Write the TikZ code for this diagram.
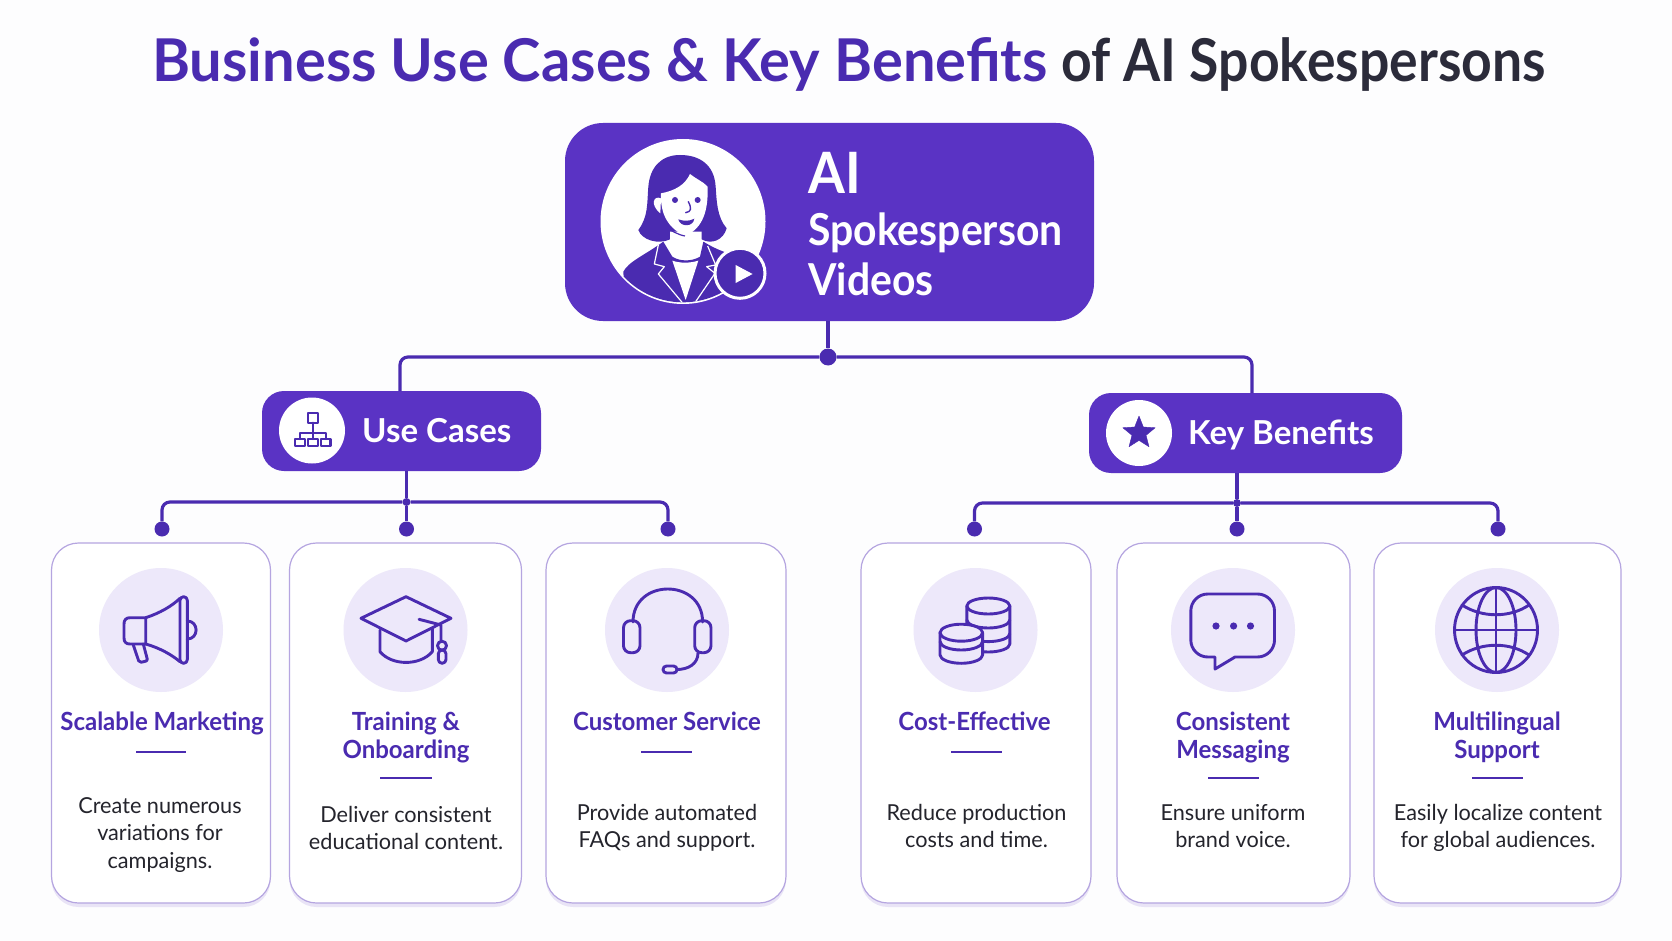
\documentclass[tikz,border=0pt]{standalone}
\usepackage{fontspec}
\setmainfont{Lato}[FakeStretch=0.985]
\newfontfamily\pagetitlefont[FakeStretch=0.98]{Lato}
\newfontfamily\pagetaildfont[FakeStretch=0.907]{Lato}
\newfontfamily\mainboxfont[FakeStretch=0.93]{Lato}
\newfontfamily\headboxfont[FakeStretch=1.0]{Lato}
\newfontfamily\cardtitlefont[FakeStretch=0.96]{Lato}
\usetikzlibrary{shapes.geometric, shadows}
\definecolor{pagebg}{HTML}{FDFDFE}
\definecolor{boxpurple}{HTML}{5A33C4}
\definecolor{inkpurple}{HTML}{4A2BB0}
\definecolor{titledark}{HTML}{2B2B3A}
\definecolor{bodydark}{HTML}{24242C}
\definecolor{iconbg}{HTML}{EDE8FA}
\definecolor{cardline}{HTML}{B5A5E0}
\tikzset{
    mainbox/.style={fill=boxpurple,rounded corners=38,minimum width=529,minimum height=198,inner sep=0},
    headbox/.style={fill=boxpurple,rounded corners=22,minimum height=80,inner sep=0},
    headcircle/.style={circle,fill=white,minimum size=66,inner sep=0},
    headtext/.style={anchor=base west,text=white,inner sep=0,font=\headboxfont\fontsize{33}{38}\selectfont\bfseries},
    card/.style={draw=cardline,fill=white,line width=1.2,rounded corners=27,minimum height=360,inner sep=0,
        drop shadow={shadow xshift=0pt,shadow yshift=-4pt,opacity=.12,fill=boxpurple}},
    iconcircle/.style={circle,fill=iconbg,minimum size=124,inner sep=0},
    cardtitle/.style={anchor=base,align=center,text=inkpurple,inner sep=0,font=\cardtitlefont\fontsize{25}{28}\selectfont\bfseries},
    cardtext/.style={anchor=base,align=center,text=bodydark,inner sep=0,font=\fontsize{22}{27.5}\selectfont},
    wire/.style={draw=inkpurple,line width=3.2,rounded corners=8},
    wiredot/.style={circle,fill=inkpurple,inner sep=0,minimum size=15},
    hubdot/.style={circle,fill=inkpurple,inner sep=0,minimum size=8},
    cardrule/.style={draw=inkpurple,line width=2.2},
    icon/.style={draw=inkpurple,line width=2.9,line join=round,line cap=round}
}
\begin{document}
\begin{tikzpicture}[x=1pt,y=-1pt]
    \useasboundingbox[fill=pagebg] (0,0) rectangle (1672,941);

    \node[anchor=base,inner sep=0,font=\fontsize{59}{64}\selectfont\bfseries] at (849,81.7) (page-title) {\textcolor{inkpurple}{\pagetitlefont Business Use Cases \& Key Benefits} \textcolor{titledark}{\pagetaildfont of AI Spokespersons}};

    \node[mainbox] at (829.5,222) (main-box) {};
    \node[circle,fill=white,minimum size=165,inner sep=0] at (683,221.5) (avatar) {};
    \begin{scope}[shift={(595,130)},x=0.3333pt,y=-0.3333pt]
        \clip (264,274) circle (81pt);
        \fill[inkpurple] (255,75) .. controls (200,75) and (165,110) .. (160,170) .. controls (156,220) and (160,260) .. (130,300) .. controls (140,330) and (190,345) .. (225,328) -- (320,328) .. controls (350,345) and (385,330) .. (395,295) .. controls (365,260) and (365,210) .. (362,170) .. controls (358,105) and (315,75) .. (255,75) -- cycle;
        \fill[white] (285,132) .. controls (270,165) and (240,182) .. (198,190) .. controls (196,240) and (210,290) .. (270,318) .. controls (325,295) and (340,240) .. (338,170) .. controls (325,155) and (300,145) .. (285,132) -- cycle;
        \fill[white] (198,205) .. controls (175,195) and (165,225) .. (196,250) -- cycle;
        \fill[white] (225,305) -- (320,305) -- (320,370) -- (225,380) -- cycle;
        \fill[inkpurple] (240,210) circle (3pt) (308,210) circle (3pt);
        \draw[inkpurple,line width=1.4,line cap=round] (280,215) .. controls (290,235) and (290,245) .. (272,248);
        \fill[inkpurple] (250,268) .. controls (265,274) and (285,274) .. (298,266) .. controls (295,292) and (255,292) .. (250,268) -- cycle;
        \draw[inkpurple,line width=1.2] (270,318) .. controls (250,315) and (225,300) .. (220,295);
        \fill[inkpurple] (85,425) .. controls (100,395) and (150,375) .. (205,335) -- (232,380) .. controls (255,395) and (290,395) .. (315,380) -- (325,335) .. controls (350,350) and (370,360) .. (400,370) -- (420,520) -- (90,520) -- cycle;
        \fill[white] (232,392) .. controls (255,400) and (285,400) .. (310,392) -- (272,510) -- cycle;
        \draw[white,line width=1.2,line join=round] (190,345) -- (178,402) -- (208,410) -- (190,432) -- (262,518);
        \draw[white,line width=1.2,line join=round] (338,348) -- (362,405) -- (335,410) -- (360,430) -- (300,518);
    \end{scope}
    \node[circle,fill=inkpurple,draw=white,line width=3,minimum size=50,inner sep=0] at (740,273.3) (play-badge) {};
    \node[isosceles triangle,isosceles triangle apex angle=56,fill=white,inner sep=0,minimum height=17,minimum width=18] at (741,274) (play-mark) {};
    \node[anchor=base west,align=left,text=white,inner sep=0,font=\mainboxfont\fontsize{44}{50}\selectfont\bfseries] at (808,295) (main-text) {{\fontsize{57}{50}\selectfont AI}\\[2pt]Spokesperson\\Videos};

    \node[headbox,minimum width=279] at (401.5,431) (use-cases) {};
    \node[headcircle] at (312,430.5) (use-circle) {};
    \node[headtext] at (362,442.5) (use-text) {Use Cases};
    \node[headbox,minimum width=313] at (1245.5,433) (key-benefits) {};
    \node[headcircle] at (1139,433) (key-circle) {};
    \node[headtext] at (1188,444) (key-text) {Key Benefits};

    \draw[icon,line width=2.2] (307.6,413) rectangle (317.6,422.7);
    \draw[icon,line width=2.2] (312.6,422.7) -- (312.6,439) (299.6,439) -- (299.6,432.7) -- (325.6,432.7) -- (325.6,439);
    \draw[icon,line width=2.2] (294.7,439) rectangle (304.6,446) (307.6,439) rectangle (317.6,446) (320.6,439) rectangle (330.5,446);
    \node[star,star points=5,star point ratio=2.3,fill=inkpurple,draw=inkpurple,line join=round,minimum size=34,inner sep=0] at (1139,433) (key-star) {};

    \node[wiredot,minimum size=17] at (828,357) (main-hub) {};
    \coordinate (use-in) at (400,391);
    \coordinate (key-in) at (1252,393);
    \draw[wire] (main-hub |- main-box.south) -- (main-hub);
    \draw[wire] (main-hub) -| (use-in);
    \draw[wire] (main-hub) -| (key-in);

    \node[card,minimum width=219] at (161,723) (card-marketing) {};
    \node[card,minimum width=232] at (405.5,723) (card-training) {};
    \node[card,minimum width=240] at (666,723) (card-service) {};
    \node[card,minimum width=230] at (976,723) (card-cost) {};
    \node[card,minimum width=233] at (1233.5,723) (card-message) {};
    \node[card,minimum width=247] at (1497.5,723) (card-language) {};

    \node[hubdot] at (406.5,502) (use-hub) {};
    \node[wiredot] at (162,529) (dot-marketing) {};
    \node[wiredot] at (406.5,529) (dot-training) {};
    \node[wiredot] at (668,529) (dot-service) {};
    \draw[wire] (use-hub |- use-cases.south) -- (use-hub);
    \draw[wire] (use-hub) -| (dot-marketing);
    \draw[wire] (use-hub) -- (dot-training);
    \draw[wire] (use-hub) -| (dot-service);

    \node[hubdot] at (1237,503) (key-hub) {};
    \node[wiredot] at (974.5,529) (dot-cost) {};
    \node[wiredot] at (1237,529) (dot-message) {};
    \node[wiredot] at (1498,529) (dot-language) {};
    \draw[wire] (key-hub |- key-benefits.south) -- (key-hub);
    \draw[wire] (key-hub) -| (dot-cost);
    \draw[wire] (key-hub) -- (dot-message);
    \draw[wire] (key-hub) -| (dot-language);

    \node[iconcircle] at (161,630) (icon-marketing) {};
    \node[iconcircle] at (405.5,630) (icon-training) {};
    \node[iconcircle] at (667,630) (icon-service) {};
    \node[iconcircle] at (975.5,630) (icon-cost) {};
    \node[iconcircle] at (1233,630) (icon-message) {};
    \node[iconcircle] at (1497,630) (icon-language) {};

    \draw[icon] (145.7,617.7) -- (130,617.7) .. controls (126,617.7) and (124,620) .. (124,624) -- (124,638) .. controls (124,642) and (126,644) .. (130,644) -- (145.7,644) -- cycle;
    \draw[icon] (145.7,617.7) .. controls (160,613) and (172,606) .. (180,598.3);
    \draw[icon] (145.7,644) .. controls (160,648) and (172,655) .. (180,661.7);
    \draw[icon,rounded corners=3.6] (180,596.7) rectangle (187.3,663.3);
    \draw[icon] (187.3,621) .. controls (199,621) and (199,639) .. (187.3,639);
    \draw[icon,rounded corners=2] (133.3,645) -- (139.3,662.7) -- (147.7,660.7) -- (143.3,644);

    \draw[icon,fill=iconbg] (380,630) -- (380,651.7) .. controls (392,666) and (420,666) .. (432.3,651.7) -- (432.3,628.3);
    \draw[icon] (361,618.3) -- (406,596.7) -- (451,618.3) -- (406,641) -- cycle;
    \draw[icon] (419,619.3) -- (441,625) -- (441,641);
    \draw[icon] (442,645.7) circle (4.5pt);
    \draw[icon,rounded corners=3.8] (438.3,650) rectangle (446,663.3);

    \draw[icon] (633,622) .. controls (633,578) and (702.6,578) .. (702.6,622);
    \draw[icon,rounded corners=7] (623.5,620.7) rectangle (640,652.7);
    \draw[icon,rounded corners=7] (694.7,620.7) rectangle (711,652.7);
    \draw[icon] (698,653) .. controls (698,664) and (688,669.5) .. (677,669.5);
    \draw[icon,rounded corners=3.5] (663,666) rectangle (677,673);

    \draw[icon] (988.3,606) ellipse [x radius=21.5pt,y radius=8pt];
    \draw[icon] (966.8,606) -- (966.8,644) arc[start angle=180,end angle=360,x radius=21.5pt,y radius=8pt] -- (1009.8,606);
    \draw[icon] (966.8,620) arc[start angle=180,end angle=360,x radius=21.5pt,y radius=8pt];
    \draw[icon] (966.8,633.6) arc[start angle=180,end angle=360,x radius=21.5pt,y radius=8pt];
    \draw[icon,fill=iconbg] (940,632.7) -- (940,654.8) arc[start angle=180,end angle=360,x radius=21.3pt,y radius=8.5pt] -- (982.6,632.7);
    \draw[icon,fill=iconbg] (961.3,632.7) ellipse [x radius=21.3pt,y radius=8.5pt];
    \draw[icon] (940,641.5) arc[start angle=180,end angle=360,x radius=21.3pt,y radius=8.5pt];

    \draw[icon] [rounded corners=17] (1233,594) -- (1274.5,594) -- (1274.5,657) [sharp corners] -- (1235,657) -- (1215,669) -- (1215,657) [rounded corners=17] -- (1190.8,657) -- (1190.8,594) -- cycle;
    \fill[inkpurple] (1216,626) circle (3.6pt) (1233.6,626) circle (3.6pt) (1250.5,626) circle (3.6pt);

    \draw[icon] (1496,630) ellipse [x radius=41.5pt,y radius=42.5pt];
    \draw[icon] (1496,630) ellipse [x radius=20pt,y radius=42.5pt];
    \draw[icon] (1496,587.5) -- (1496,672.5) (1454.5,630) -- (1537.5,630);
    \draw[icon] (1462,605) .. controls (1482,618) and (1510,618) .. (1529,605);
    \draw[icon] (1462,655) .. controls (1482,642) and (1510,642) .. (1529,655);

    \node[cardtitle] at (162,730) (title-marketing) {Scalable Marketing};
    \node[cardtitle] at (406,758) (title-training) {Training \&\\Onboarding};
    \node[cardtitle] at (667,730) (title-service) {Customer Service};
    \node[cardtitle] at (974.5,730) (title-cost) {Cost-Effective};
    \node[cardtitle] at (1233,758) (title-message) {Consistent\\Messaging};
    \node[cardtitle] at (1497,758) (title-language) {Multilingual\\Support};

    \draw[cardrule] (136,752) -- (186,752);
    \draw[cardrule] (380,778) -- (432,778);
    \draw[cardrule] (641,752) -- (692,752);
    \draw[cardrule] (951,752) -- (1002,752);
    \draw[cardrule] (1208,778) -- (1259,778);
    \draw[cardrule] (1472,778) -- (1523,778);

    \node[cardtext] at (160,868) (text-marketing) {Create numerous\\variations for\\campaigns.};
    \node[cardtext] at (406,849.5) (text-training) {Deliver consistent\\educational content.};
    \node[cardtext] at (667,847.5) (text-service) {Provide automated\\FAQs and support.};
    \node[cardtext] at (976.5,847.5) (text-cost) {Reduce production\\costs and time.};
    \node[cardtext] at (1233,847.5) (text-message) {Ensure uniform\\brand voice.};
    \node[cardtext] at (1498,847.5) (text-language) {Easily localize content\\for global audiences.};
\end{tikzpicture}
\end{document}
